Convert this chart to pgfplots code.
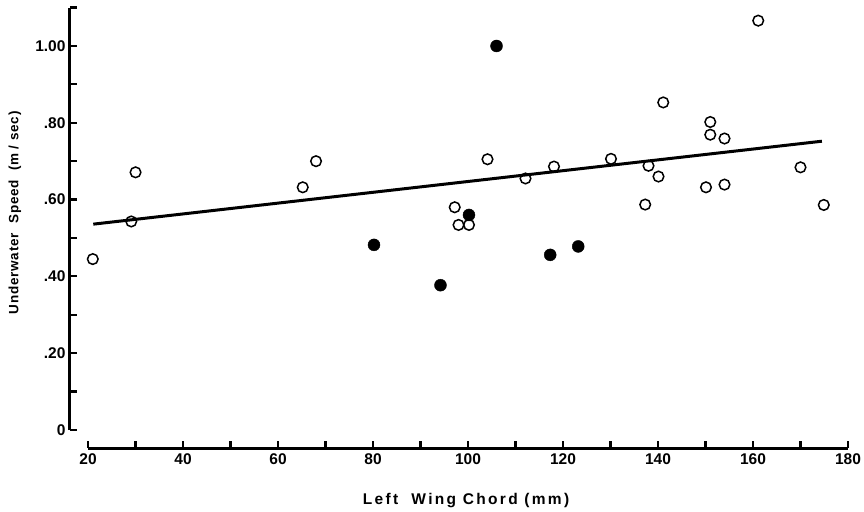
\documentclass[border=0pt]{standalone}
\usepackage{fontspec}
\setmainfont{Liberation Sans}
\newfontfamily\spacedx{Liberation Sans}[LetterSpace=15]
\newfontfamily\spacedy{Liberation Sans}[LetterSpace=6]
\usepackage{pgfplots}
\pgfplotsset{compat=1.18}

\begin{document}
\begin{tikzpicture}
\begin{axis}[
  scale only axis, width=778pt, height=440.4pt,
  xmin=16.2, xmax=180, ymin=-0.047, ymax=1.1,
  axis x line=bottom, axis y line=left,
  axis line style={-, line width=3pt},
  every outer x axis line/.append style={-, shorten <=18pt},
  every outer y axis line/.append style={-, shorten <=18pt},
  clip=false,
  tick align=inside,
  major tick length=7pt, minor tick length=7pt,
  tick style={line width=2.2pt, black},
  xtick={20,40,60,80,100,120,140,160,180},
  minor xtick={30,50,70,90,110,130,150,170},
  ytick={0,0.2,0.4,0.6,0.8,1.0},
  yticklabels={0,.20,.40,.60,.80,1.00},
  minor ytick={0.1,0.3,0.5,0.7,0.9,1.1},
  /pgf/number format/assume math mode=true,
  ticklabel style={font=\bfseries\fontsize{15.5}{17}\selectfont},
  xticklabel style={yshift=-2pt},
  yticklabel style={xshift=-1pt},
  xlabel={Left\ \ Wing Chord (mm)},
  ylabel={Underwater\ \ Speed\ \ (m / sec)},
  xlabel style={font=\spacedx\bfseries\fontsize{15.5}{17}\selectfont,
    at={(axis description cs:0.509,-0.120)}, anchor=center},
  ylabel style={font=\spacedy\bfseries\fontsize{13.5}{15}\selectfont,
    at={(axis description cs:-0.0707,0.534)}, anchor=center},
]
\addplot[black, line width=3pt] coordinates {(21.1,0.536) (174.5,0.752)};
\addplot[only marks, mark=o, mark size=5.3pt, mark options={line width=1.5pt, black, fill=white}] coordinates {
(21.0,0.445) (29.1,0.543) (30.0,0.671) (65.2,0.632) (68.0,0.700)
(97.2,0.580) (98.0,0.534) (100.2,0.534) (104.1,0.705) (112.1,0.655)
(118.1,0.686) (130.1,0.706) (137.3,0.587) (138.0,0.688) (140.1,0.660)
(141.1,0.853) (150.1,0.632) (151.0,0.802) (151.0,0.769) (154.0,0.759)
(154.0,0.639) (161.1,1.066) (170.0,0.684) (174.9,0.586)
};
\addplot[only marks, mark=*, mark size=6pt, mark options={black}] coordinates {
(80.2,0.482) (94.2,0.377) (100.2,0.560) (106.0,1.000) (117.3,0.456) (123.2,0.478)
};
\end{axis}
\pgfresetboundingbox
\path (current axis.south west) ++(-70pt,-63pt) rectangle ++(864pt,511pt);
\end{tikzpicture}
\end{document}
